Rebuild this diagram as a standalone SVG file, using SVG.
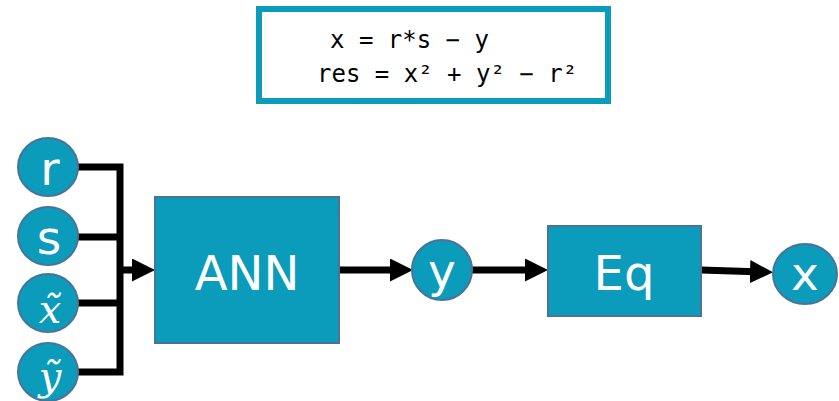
<svg xmlns="http://www.w3.org/2000/svg" width="839" height="401" viewBox="0 0 839 401">
  <style>
    .node { fill: #0A9CBA; stroke: #4A739A; stroke-width: 2; }
    .lbl { fill: #FFFFFF; font-family: "DejaVu Sans", Verdana, sans-serif; text-anchor: middle; }
    .big { font-size: 48px; }
    .var { font-size: 47px; }
    .math { font-family: "DejaVu Serif", "Liberation Serif", serif; font-style: italic; font-size: 40px; }
    .wire { fill: none; stroke: #000000; stroke-width: 7; }
    .code { font-family: "DejaVu Sans Mono", "Liberation Mono", monospace; font-size: 24px; fill: #000000; }
  </style>
  <defs>
    <marker id="head" markerUnits="userSpaceOnUse" markerWidth="24" markerHeight="24" refX="13" refY="11.5" orient="auto">
      <path d="M0,0 L23,11.5 L0,23 z" fill="#000000"/>
    </marker>
  </defs>

  <rect width="839" height="401" fill="#FFFFFF"/>

  <!-- equation box -->
  <g id="equations">
    <rect x="259" y="9" width="349" height="92" fill="#FFFFFF" stroke="#0A9CBA" stroke-width="6"/>
    <text class="code" x="330" y="48" xml:space="preserve">x = r*s − y</text>
    <text class="code" x="317" y="82" xml:space="preserve">res = x² + y² − r²</text>
  </g>

  <!-- connectors -->
  <g id="connectors">
    <path class="wire" d="M78 167 H120 V372 H78"/>
    <path class="wire" d="M78 237 H120"/>
    <path class="wire" d="M78 303 H120"/>
    <path class="wire" d="M117 270 H145" marker-end="url(#head)"/>
    <path class="wire" d="M339 270 H403" marker-end="url(#head)"/>
    <path class="wire" d="M472 270 H538" marker-end="url(#head)"/>
    <path class="wire" d="M701 270 L763 272" marker-end="url(#head)"/>
  </g>

  <g id="node-r">
    <ellipse class="node" cx="48" cy="167" rx="30" ry="29"/>
    <text class="lbl var" x="50" y="185">r</text>
  </g>
  <g id="node-s">
    <ellipse class="node" cx="48" cy="236" rx="30" ry="29"/>
    <text class="lbl var" x="49" y="254">s</text>
  </g>
  <g id="node-xt">
    <ellipse class="node" cx="48" cy="303" rx="30" ry="29"/>
    <text class="lbl math" x="50" y="323">x̃</text>
  </g>
  <g id="node-yt">
    <ellipse class="node" cx="48" cy="372" rx="30" ry="29"/>
    <text class="lbl math" x="50" y="390">ỹ</text>
  </g>

  <g id="node-ann">
    <rect class="node" x="155" y="197" width="184" height="146"/>
    <text class="lbl big" x="247" y="290">ANN</text>
  </g>

  <g id="node-y">
    <ellipse class="node" cx="442" cy="270" rx="30" ry="30"/>
    <text class="lbl var" x="442" y="287">y</text>
  </g>

  <g id="node-eq">
    <rect class="node" x="548" y="226" width="153" height="90"/>
    <text class="lbl big" x="624" y="290">Eq</text>
  </g>

  <g id="node-x">
    <ellipse class="node" cx="805" cy="274" rx="32" ry="30"/>
    <text class="lbl var" x="805" y="290">x</text>
  </g>
</svg>
